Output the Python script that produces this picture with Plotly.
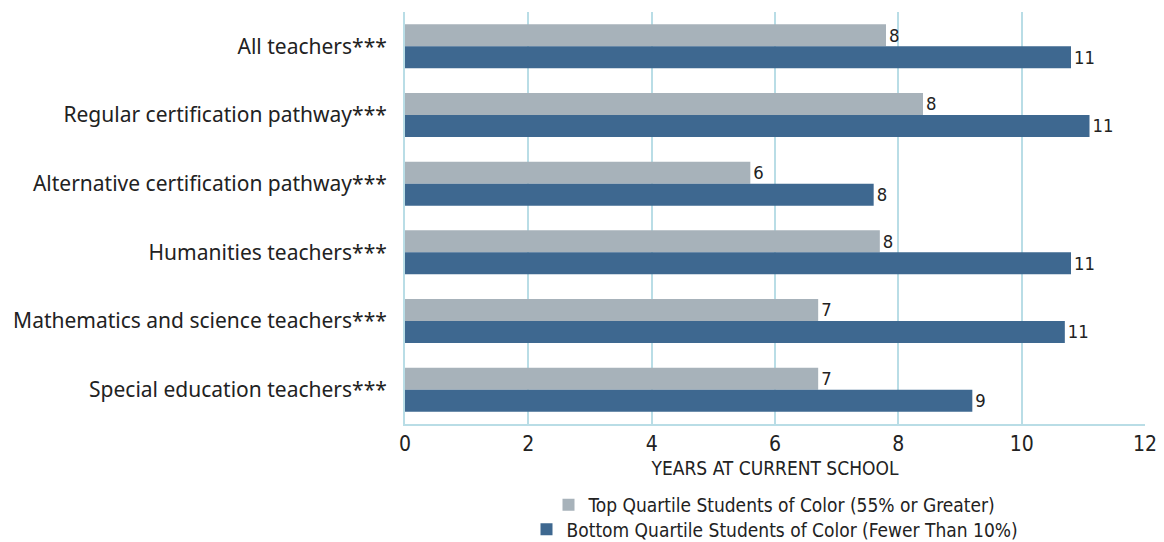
import plotly.graph_objects as go

categories = [
    "All teachers***",
    "Regular certification pathway***",
    "Alternative certification pathway***",
    "Humanities teachers***",
    "Mathematics and science teachers***",
    "Special education teachers***",
]
top_quartile = [7.8, 8.4, 5.6, 7.7, 6.7, 6.7]
bottom_quartile = [10.8, 11.1, 7.6, 10.8, 10.7, 9.2]
top_name = "Top Quartile Students of Color (55% or Greater)"
bottom_name = "Bottom Quartile Students of Color (Fewer Than 10%)"
x_ticks = [0, 2, 4, 6, 8, 10, 12]

GRAY = "#a7b2ba"
BLUE = "#3e6890"
GRID = "#b9dde6"
NARROW = "DejaVu Sans Condensed, Liberation Sans Narrow, sans-serif"
LABEL = "Noto Sans, sans-serif"
TEXT = "#222222"

fig = go.Figure()
fig.add_trace(go.Bar(
    y=categories, x=top_quartile, name=top_name, orientation="h",
    marker=dict(color=GRAY, line=dict(width=0)),
    texttemplate="%{x:.0f}", textposition="outside", cliponaxis=False,
    textfont=dict(family=NARROW, size=20, color=TEXT),
    legend="legend",
))
fig.add_trace(go.Bar(
    y=categories, x=bottom_quartile, name=bottom_name, orientation="h",
    marker=dict(color=BLUE, line=dict(width=0)),
    texttemplate="%{x:.0f}", textposition="outside", cliponaxis=False,
    textfont=dict(family=NARROW, size=20, color=TEXT),
    legend="legend2",
))

fig.update_layout(
    width=1164, height=542,
    margin=dict(l=405, r=19, t=12, b=118, autoexpand=False),
    paper_bgcolor="white", plot_bgcolor="white",
    barmode="group", bargap=0.36, bargroupgap=0,
    font=dict(family=NARROW, color=TEXT),
    xaxis=dict(
        range=[0, 12], tickvals=x_ticks, showgrid=True, gridcolor=GRID, gridwidth=2,
        zeroline=False, showline=True, linecolor=GRID, linewidth=2,
        ticks="", tickfont=dict(family=NARROW, size=21, color=TEXT),
        title=dict(text="YEARS AT CURRENT SCHOOL", standoff=6,
                   font=dict(family=NARROW, size=19, color=TEXT)),
    ),
    yaxis=dict(
        autorange="reversed", showline=True, linecolor=GRID, linewidth=2,
        ticks="", ticklabelstandoff=12,
        tickfont=dict(family=LABEL, size=21, color=TEXT),
    ),
    legend=dict(
        x=0.5, xanchor="center", y=-0.15, yanchor="top", xref="paper",
        font=dict(family=NARROW, size=19, color=TEXT), itemwidth=30,
        bgcolor="rgba(0,0,0,0)", tracegroupgap=0,
    ),
    legend2=dict(
        x=0.5, xanchor="center", y=-0.21, yanchor="top", xref="paper",
        font=dict(family=NARROW, size=19, color=TEXT), itemwidth=30,
        bgcolor="rgba(0,0,0,0)",
    ),
    showlegend=True,
)

fig.write_html("out.html")
